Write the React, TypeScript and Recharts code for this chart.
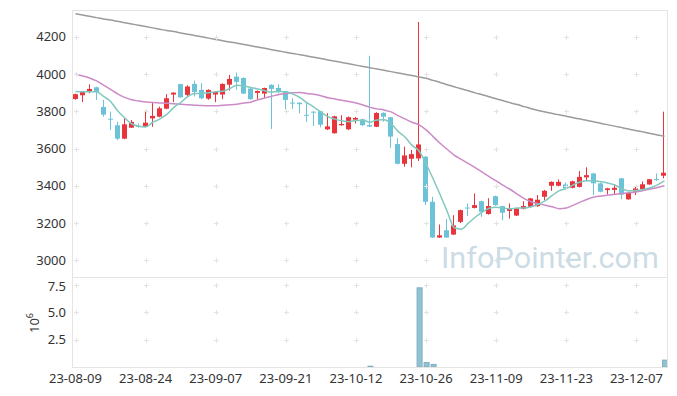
import { Bar, BarChart, ComposedChart, Line, ReferenceDot, XAxis, YAxis } from 'recharts'

const dates = [
  '23-08-09', '23-08-10', '23-08-11', '23-08-14', '23-08-16', '23-08-17', '23-08-18', '23-08-21', '23-08-22', '23-08-23',
  '23-08-24', '23-08-25', '23-08-28', '23-08-29', '23-08-30', '23-08-31', '23-09-01', '23-09-04', '23-09-05', '23-09-06',
  '23-09-07', '23-09-08', '23-09-11', '23-09-12', '23-09-13', '23-09-14', '23-09-15', '23-09-18', '23-09-19', '23-09-20',
  '23-09-21', '23-09-22', '23-09-25', '23-09-26', '23-09-27', '23-10-04', '23-10-05', '23-10-06', '23-10-10', '23-10-11',
  '23-10-12', '23-10-13', '23-10-16', '23-10-17', '23-10-18', '23-10-19', '23-10-20', '23-10-23', '23-10-24', '23-10-25',
  '23-10-26', '23-10-27', '23-10-30', '23-10-31', '23-11-01', '23-11-02', '23-11-03', '23-11-06', '23-11-07', '23-11-08',
  '23-11-09', '23-11-10', '23-11-13', '23-11-14', '23-11-15', '23-11-16', '23-11-17', '23-11-20', '23-11-21', '23-11-22',
  '23-11-23', '23-11-24', '23-11-27', '23-11-28', '23-11-29', '23-11-30', '23-12-01', '23-12-04', '23-12-05', '23-12-06',
  '23-12-07', '23-12-08', '23-12-11', '23-12-12', '23-12-13',
]

const opens = [
  3866, 3886, 3909, 3929, 3823, 3760, 3725, 3653, 3712, 3722,
  3717, 3762, 3771, 3814, 3890, 3946, 3888, 3947, 3915, 3868,
  3890, 3890, 3943, 3986, 3979, 3922, 3899, 3895, 3942, 3925,
  3906, 3847, 3846, 3781, 3798, 3800, 3703, 3682, 3725, 3703,
  3755, 3757, 3726, 3717, 3791, 3768, 3624, 3518, 3545, 3547,
  3556, 3314, 3122, 3161, 3138, 3206, 3283, 3281, 3317, 3248,
  3344, 3291, 3265, 3240, 3276, 3287, 3290, 3341, 3400, 3400,
  3407, 3389, 3394, 3445, 3466, 3413, 3377, 3378, 3440, 3327,
  3368, 3382, 3407, 3436, 3454,
]
const highs = [
  3895, 3908, 3945, 3932, 3861, 3798, 3744, 3762, 3753, 3735,
  3803, 3846, 3825, 3892, 3902, 3948, 3940, 3965, 3951, 3918,
  3906, 3950, 3995, 4008, 3982, 3925, 3912, 3927, 3945, 3945,
  3910, 3870, 3848, 3846, 3800, 3802, 3789, 3776, 3779, 3772,
  3770, 3760, 4098, 3795, 3795, 3770, 3655, 3610, 3592, 4280,
  3560, 3341, 3192, 3222, 3242, 3272, 3305, 3359, 3320, 3333,
  3347, 3293, 3305, 3282, 3317, 3335, 3350, 3378, 3424, 3434,
  3418, 3427, 3479, 3499, 3470, 3418, 3389, 3408, 3442, 3365,
  3395, 3423, 3437, 3466, 3798,
]
const lows = [
  3862, 3850, 3897, 3861, 3771, 3700, 3645, 3650, 3710, 3712,
  3715, 3717, 3768, 3811, 3849, 3873, 3875, 3879, 3865, 3862,
  3849, 3865, 3911, 3915, 3893, 3862, 3866, 3870, 3705, 3897,
  3811, 3813, 3789, 3744, 3721, 3714, 3700, 3680, 3722, 3700,
  3735, 3722, 3715, 3715, 3744, 3604, 3515, 3502, 3499, 3533,
  3296, 3120, 3120, 3120, 3135, 3200, 3237, 3278, 3233, 3245,
  3293, 3215, 3224, 3237, 3273, 3284, 3287, 3323, 3373, 3397,
  3383, 3386, 3391, 3430, 3350, 3365, 3353, 3353, 3327, 3325,
  3350, 3380, 3405, 3425, 3440,
]
const closes = [
  3892, 3904, 3920, 3904, 3782, 3755, 3653, 3730, 3743, 3717,
  3739, 3775, 3816, 3870, 3900, 3875, 3933, 3904, 3870, 3915,
  3904, 3947, 3974, 3958, 3895, 3865, 3909, 3925, 3920, 3909,
  3861, 3844, 3838, 3778, 3794, 3728, 3719, 3773, 3732, 3768,
  3764, 3725, 3718, 3791, 3771, 3664, 3518, 3563, 3570, 3622,
  3314, 3122, 3134, 3122, 3187, 3269, 3280, 3296, 3260, 3291,
  3296, 3255, 3278, 3278, 3291, 3332, 3325, 3373, 3421, 3421,
  3386, 3424, 3448, 3457, 3413, 3368, 3386, 3389, 3353, 3362,
  3386, 3408, 3435, 3433, 3470,
]

// moving averages as drawn (5, 20 and long term)
const ma5 = [
  3906, 3905, 3905, 3905, 3880, 3853, 3803, 3765, 3733, 3720,
  3716, 3741, 3758, 3783, 3820, 3847, 3879, 3896, 3896, 3899,
  3905, 3908, 3922, 3940, 3936, 3928, 3920, 3910, 3903, 3906,
  3905, 3892, 3874, 3846, 3823, 3796, 3771, 3758, 3749, 3744,
  3751, 3752, 3741, 3753, 3754, 3734, 3692, 3661, 3617, 3587,
  3517, 3438, 3352, 3263, 3176, 3167, 3198, 3231, 3258, 3279,
  3285, 3280, 3276, 3280, 3280, 3287, 3301, 3320, 3348, 3374,
  3385, 3405, 3420, 3427, 3426, 3422, 3414, 3403, 3382, 3372,
  3375, 3380, 3389, 3405, 3426,
]
const ma20 = [
  4001, 3990, 3979, 3963, 3941, 3918, 3894, 3875, 3862, 3855,
  3850, 3847, 3845, 3843, 3840, 3838, 3835, 3833, 3831, 3830,
  3830, 3833, 3835, 3838, 3844, 3849, 3862, 3872, 3881, 3890,
  3896, 3900, 3901, 3896, 3891, 3884, 3873, 3866, 3859, 3852,
  3845, 3834, 3821, 3813, 3807, 3797, 3777, 3759, 3741, 3727,
  3700, 3664, 3628, 3596, 3565, 3542, 3520, 3497, 3473, 3449,
  3426, 3402, 3380, 3355, 3331, 3314, 3304, 3295, 3287, 3277,
  3281, 3296, 3312, 3328, 3340, 3345, 3350, 3355, 3359, 3363,
  3367, 3375, 3383, 3391, 3400,
]
const maLong = [
  4324, 4317, 4310, 4303, 4296, 4290, 4283, 4276, 4269, 4262,
  4255, 4248, 4241, 4234, 4228, 4221, 4214, 4207, 4200, 4193,
  4186, 4179, 4172, 4166, 4159, 4152, 4145, 4138, 4131, 4124,
  4117, 4110, 4104, 4097, 4090, 4083, 4076, 4069, 4062, 4055,
  4048, 4041, 4034, 4027, 4020, 4013, 4006, 3999, 3992, 3984,
  3977, 3966, 3955, 3943, 3932, 3921, 3910, 3899, 3889, 3878,
  3867, 3857, 3846, 3836, 3825, 3814, 3804, 3796, 3788, 3781,
  3773, 3765, 3758, 3750, 3742, 3735, 3727, 3719, 3712, 3704,
  3696, 3689, 3681, 3673, 3666,
]

// volume, millions
const volume = [
  0.03, 0.03, 0.04, 0.03, 0.05, 0.05, 0.06, 0.04, 0.03, 0.03,
  0.04, 0.04, 0.04, 0.05, 0.03, 0.04, 0.04, 0.05, 0.04, 0.03,
  0.03, 0.04, 0.05, 0.05, 0.04, 0.03, 0.03, 0.03, 0.05, 0.03,
  0.04, 0.03, 0.03, 0.04, 0.03, 0.04, 0.03, 0.04, 0.03, 0.03,
  0.02, 0.03, 0.12, 0.04, 0.03, 0.05, 0.08, 0.05, 0.04, 7.25,
  0.45, 0.28, 0.07, 0.05, 0.06, 0.05, 0.04, 0.04, 0.03, 0.03,
  0.03, 0.03, 0.03, 0.02, 0.03, 0.03, 0.03, 0.04, 0.05, 0.04,
  0.03, 0.03, 0.04, 0.05, 0.04, 0.03, 0.03, 0.03, 0.04, 0.03,
  0.03, 0.03, 0.03, 0.03, 0.67,
]

const priceTicks = [3000, 3200, 3400, 3600, 3800, 4000, 4200]
const volTicks = [2.5, 5, 7.5]
const dateTicks = ['23-08-09', '23-08-24', '23-09-07', '23-09-21', '23-10-12', '23-10-26', '23-11-09', '23-11-23', '23-12-07']

const RED = '#e8353c'
const BLUE = '#6cc3d8'
const FONT = '"Noto Sans", sans-serif'

const rows = dates.map((date, i) => ({
  date,
  open: opens[i],
  close: closes[i],
  high: highs[i],
  low: lows[i],
  range: [lows[i], highs[i]],
  ma5: ma5[i],
  ma20: ma20[i],
  maLong: maLong[i],
  vol: volume[i],
}))

function Candle(props: any) {
  const { x, y, width, height, payload } = props
  const { open, close, high, low } = payload
  const color = close >= open ? RED : BLUE
  const top = Math.min(y, y + height)
  const h = Math.abs(height)
  const ppu = high > low ? h / (high - low) : 0
  const bodyTop = top + (high - Math.max(open, close)) * ppu
  const bodyH = Math.max(1, Math.abs(close - open) * ppu)
  const cx = Math.round(x + width / 2) - 0.5
  return (
    <g>
      <line x1={cx} x2={cx} y1={top} y2={top + h} stroke={color} strokeWidth={1} />
      <rect x={cx - 2.5} y={bodyTop} width={5} height={bodyH} fill={color} />
    </g>
  )
}

// volume bar: tiny values stay invisible like in the source
function VolBar(props: any) {
  const { x, y, width, height } = props
  const h = Math.abs(height)
  if (h < 1) return <g />
  return <rect x={x + 0.5} y={Math.min(y, y + height) + 0.5} width={width - 1} height={h - 0.5} fill="#93c2d1" stroke="#7eafc2" strokeWidth={1} />
}

function Cross({ cx, cy }: any) {
  const x = Math.round(cx) + 0.5
  const y = Math.round(cy) + 0.5
  return <path d={`M${x - 2.5},${y}H${x + 2.5}M${x},${y - 2.5}V${y + 2.5}`} stroke="#e3e3e3" strokeWidth={1} fill="none" />
}

const tickStyle = { fill: '#333', fontSize: 13, fontFamily: FONT }

export default function App() {
  return (
    <div style={{ position: 'relative', width: 677, height: 396, background: '#fff', fontFamily: FONT }}>
      <style>{'body{margin:0}'}</style>
      <div style={{ position: 'absolute', left: 0, top: 0 }}>
        <ComposedChart width={677} height={278} data={rows} margin={{ top: 10, right: 9, bottom: 1, left: 0 }}>
          <XAxis dataKey="date" hide />
          <YAxis
            domain={[2910, 4344]}
            ticks={priceTicks}
            width={72}
            tickLine={false}
            axisLine={false}
            tickSize={0}
            tickMargin={6}
            tick={tickStyle}
          />
          {dateTicks.flatMap((d) =>
            priceTicks.map((p) => (
              <ReferenceDot key={d + p} x={d} y={p} r={0} shape={(s: any) => <Cross {...s} />} />
            )),
          )}
          <Bar dataKey="range" shape={(p: any) => <Candle {...p} />} barSize={5} isAnimationActive={false} />
          <Line type="monotone" dataKey="maLong" stroke="#9b9b9b" strokeWidth={1.5} dot={false} isAnimationActive={false} />
          <Line type="monotone" dataKey="ma20" stroke="#cc8ac6" strokeWidth={1.5} dot={false} isAnimationActive={false} />
          <Line type="monotone" dataKey="ma5" stroke="#80c9bf" strokeWidth={1.5} dot={false} isAnimationActive={false} />
        </ComposedChart>
      </div>
      <div style={{ position: 'absolute', left: 0, top: 278 }}>
        <BarChart width={677} height={118} data={rows} margin={{ top: 0, right: 9, bottom: 0, left: 0 }}>
          <XAxis
            dataKey="date"
            ticks={dateTicks}
            interval={0}
            height={29}
            tickLine={false}
            axisLine={false}
            tickSize={0}
            tickMargin={7}
            tick={tickStyle}
          />
          <YAxis
            domain={[0, 8.1]}
            ticks={volTicks}
            width={72}
            tickLine={false}
            axisLine={false}
            tickSize={0}
            tickMargin={6}
            tick={tickStyle}
            tickFormatter={(v: number) => v.toFixed(1)}
          />
          {dateTicks.flatMap((d) =>
            volTicks.map((v) => (
              <ReferenceDot key={d + v} x={d} y={v} r={0} shape={(s: any) => <Cross {...s} />} />
            )),
          )}
          <Bar dataKey="vol" shape={(p: any) => <VolBar {...p} />} barSize={6} isAnimationActive={false} />
        </BarChart>
      </div>
      <svg width={677} height={396} style={{ position: 'absolute', left: 0, top: 0, pointerEvents: 'none' }}>
        <rect x={72.5} y={10.5} width={595} height={267} fill="none" stroke="#e4e4e4" />
        <rect x={72.5} y={277.5} width={595} height={90} fill="none" stroke="#e4e4e4" />
        <text
          x={441}
          y={268}
          fontFamily="Roboto, sans-serif"
          fontSize={30}
          fill="#c3d6e1"
          fillOpacity={0.85}
          textLength={218}
          lengthAdjust="spacingAndGlyphs"
        >
          InfoPointer.com
        </text>
        <text transform="translate(39,323) rotate(-90)" textAnchor="middle" fontFamily={FONT} fontSize={13} fill="#333">
          10
          <tspan dy={-6} fontSize={9}>6</tspan>
        </text>
      </svg>
    </div>
  )
}
